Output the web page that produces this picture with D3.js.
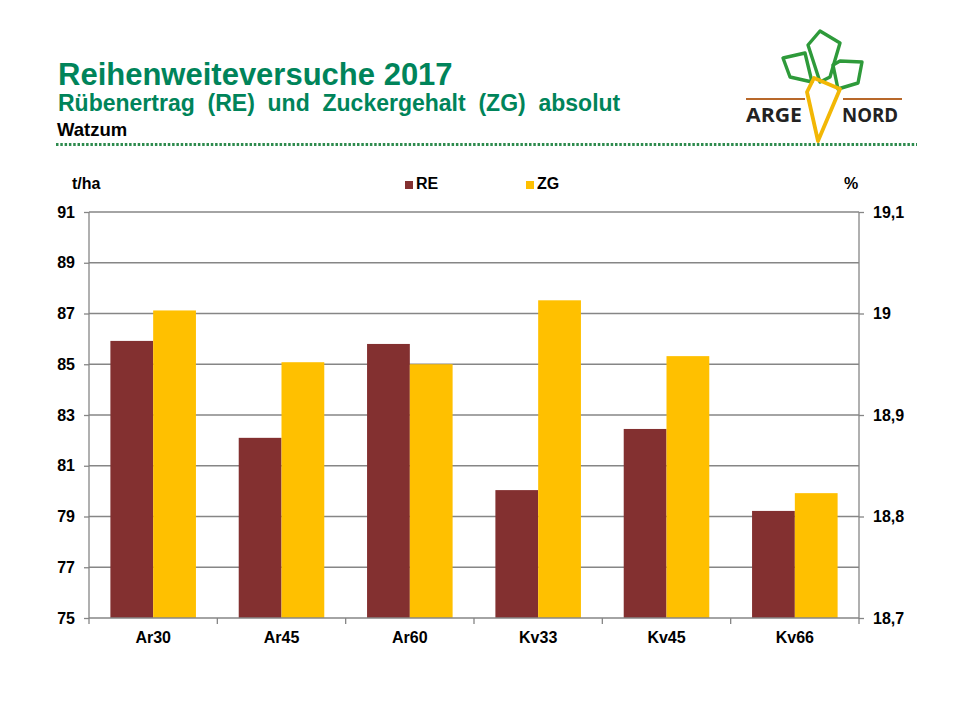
<!DOCTYPE html>
<html><head><meta charset="utf-8">
<script src="https://cdn.jsdelivr.net/npm/d3@7"></script>
<style>
html,body{margin:0;padding:0;background:#fff;}
svg{display:block;font-family:"Liberation Sans",Arial,sans-serif;}
.pre{white-space:pre;}
</style></head>
<body>
<svg id="c" width="960" height="720"></svg>
<script>
const categories = ["Ar30","Ar45","Ar60","Kv33","Kv45","Kv66"];
const seriesNames = ["RE","ZG"];
const reValues = [85.92, 82.1, 85.8, 80.04, 82.45, 79.22];
const zgValues = [19.003, 18.952, 18.950, 19.013, 18.958, 18.823];
const leftTicks = [75,77,79,81,83,85,87,89,91];
const rightTicks = [18.7,18.8,18.9,19.0,19.1];
const rightTickLabels = ["18,7","18,8","18,9","19","19,1"];
const colors = {RE:"#833030", ZG:"#FFC000"};

const svg = d3.select("#c");
const green = "#00845A";

// Titles
svg.append("text").attr("x",58).attr("y",85).attr("fill",green)
  .attr("font-size",31).attr("font-weight","bold").text("Reihenweiteversuche 2017");
svg.append("text").attr("class","pre").attr("x",58).attr("y",111).attr("fill",green)
  .attr("font-size",23).attr("font-weight","bold").text("Rübenertrag  (RE)  und  Zuckergehalt  (ZG)  absolut");
svg.append("text").attr("x",57).attr("y",136).attr("fill","#000")
  .attr("font-size",18.5).attr("font-weight","bold").text("Watzum");
svg.append("line").attr("x1",56).attr("x2",917).attr("y1",144.5).attr("y2",144.5)
  .attr("stroke","#2E8B4E").attr("stroke-width",3).attr("stroke-dasharray","2.5 1.8");

// Logo
const logo = svg.append("g");
const leafStroke = "#2E9A3A";
[
 [[783,58],[805,53],[812,82],[790,77]],
 [[808,45],[820,31],[840,43],[830,77],[820,82]],
 [[833,65],[840,61],[862,62],[858,83],[838,89]]
].forEach(p=>{
  logo.append("path").attr("d",d3.line()(p)+"Z").attr("fill","none")
    .attr("stroke",leafStroke).attr("stroke-width",3.4).attr("stroke-linejoin","round");
});
logo.append("path").attr("d","M746,99 L805,99 M843,99 L902,99")
  .attr("stroke","#B8682A").attr("stroke-width",2.2);
logo.append("path").attr("d",d3.line()([[807,92],[814,78],[840,89],[818,141]])+"Z")
  .attr("fill","none").attr("stroke","#F2B705").attr("stroke-width",3.8).attr("stroke-linejoin","round");
logo.append("text").attr("x",746).attr("y",122).attr("font-size",20).attr("font-weight","bold")
  .attr("font-family","'Open Sans',sans-serif").attr("fill","#222")
  .attr("textLength",56).attr("lengthAdjust","spacingAndGlyphs").text("ARGE");
logo.append("text").attr("x",842).attr("y",122).attr("font-size",20).attr("font-weight","bold")
  .attr("font-family","'Open Sans',sans-serif").attr("fill","#222")
  .attr("textLength",56).attr("lengthAdjust","spacingAndGlyphs").text("NORD");

// Scales
const x0 = 89, x1 = 859, yTop = 212, yBot = 618;
const x = d3.scaleBand().domain(categories).range([x0,x1]).padding(0);
const xs = d3.scaleBand().domain(seriesNames).range([x.bandwidth()/6, x.bandwidth()*5/6]).padding(0);
const yL = d3.scaleLinear().domain([75,91]).range([yBot,yTop]);
const yR = d3.scaleLinear().domain([18.7,19.1]).range([yBot,yTop]);
const gridCol = "#868686";

// Gridlines
svg.append("g").selectAll("line").data(leftTicks.slice(1)).join("line")
  .attr("x1",x0).attr("x2",x1).attr("y1",d=>yL(d)).attr("y2",d=>yL(d))
  .attr("stroke",gridCol).attr("stroke-width",1.3);

// Bars
const data = categories.map((c,i)=>({c, RE:reValues[i], ZG:zgValues[i]}));
const g = svg.append("g");
g.selectAll("rect.re").data(data).join("rect").attr("class","re")
  .attr("x",d=>x(d.c)+xs("RE")).attr("width",xs.bandwidth())
  .attr("y",d=>yL(d.RE)).attr("height",d=>yBot-yL(d.RE)).attr("fill",colors.RE);
g.selectAll("rect.zg").data(data).join("rect").attr("class","zg")
  .attr("x",d=>x(d.c)+xs("ZG")).attr("width",xs.bandwidth())
  .attr("y",d=>yR(d.ZG)).attr("height",d=>yBot-yR(d.ZG)).attr("fill",colors.ZG);

// Axes
const fontAxis = g2 => {
  g2.selectAll("text").attr("font-size",16).attr("font-weight","bold").attr("fill","#000")
    .attr("font-family","'Liberation Sans',Arial,sans-serif");
  g2.selectAll("line,path").attr("stroke",gridCol).attr("stroke-width",1.3);
};
svg.append("g").attr("transform",`translate(${x0},0)`)
  .call(d3.axisLeft(yL).tickValues(leftTicks).tickSize(5).tickSizeOuter(0).tickPadding(9).tickFormat(d3.format("d")))
  .call(fontAxis).call(g2=>g2.select(".domain").attr("d",`M0,${yTop}V${yBot}`));
svg.append("g").attr("transform",`translate(${x1},0)`)
  .call(d3.axisRight(yR).tickValues(rightTicks).tickSize(5).tickSizeOuter(0).tickPadding(9)
    .tickFormat((d,i)=>rightTickLabels[i]))
  .call(fontAxis).call(g2=>g2.select(".domain").attr("d",`M0,${yTop}V${yBot}`));
const xa = svg.append("g").attr("transform",`translate(0,${yBot})`)
  .call(d3.axisBottom(x).tickSize(0).tickPadding(14))
  .call(fontAxis);
xa.select(".domain").attr("d",`M${x0},0H${x1}`);
// category boundary ticks
svg.append("g").selectAll("line").data(categories.concat(["_end"])).join("line")
  .attr("x1",(d,i)=>i<categories.length?x(d):x1).attr("x2",(d,i)=>i<categories.length?x(d):x1)
  .attr("y1",yBot).attr("y2",yBot+6).attr("stroke",gridCol).attr("stroke-width",1.3);

// Axis unit labels
svg.append("text").attr("x",72).attr("y",189).attr("font-size",16).attr("font-weight","bold").text("t/ha");
svg.append("text").attr("x",851).attr("y",189).attr("text-anchor","middle").attr("font-size",16).attr("font-weight","bold").text("%");

// Legend
const legX = {RE:405, ZG:526};
seriesNames.forEach(s=>{
  svg.append("rect").attr("x",legX[s]).attr("y",181).attr("width",8).attr("height",8).attr("fill",colors[s]);
  svg.append("text").attr("x",legX[s]+11).attr("y",189).attr("font-size",16).attr("font-weight","bold").text(s);
});
</script>
</body></html>
